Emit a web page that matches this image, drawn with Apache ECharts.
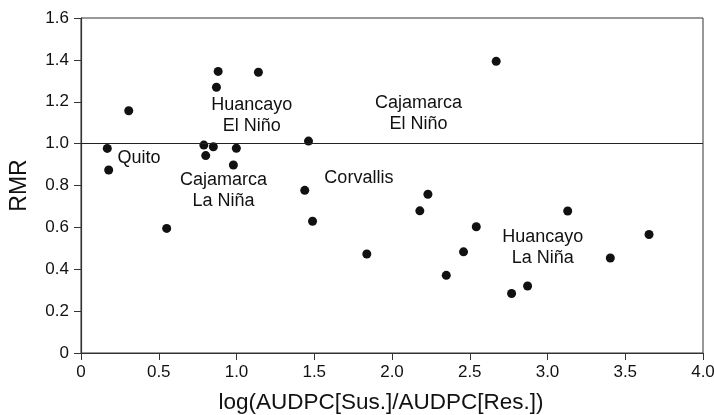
<!DOCTYPE html>
<html>
<head>
<meta charset="utf-8">
<script src="https://cdn.jsdelivr.net/npm/echarts@6/dist/echarts.min.js"></script>
<style>html,body{margin:0;padding:0;background:#fff}#c{width:714px;height:415px}</style>
</head>
<body>
<div id="c"></div>
<script>
// log(AUDPC ratio) values and RMR values
const xValues = [0.169, 0.178, 0.307, 0.551, 0.790, 0.802, 0.851, 0.871, 0.882, 0.980, 0.999, 1.141, 1.439, 1.463, 1.489, 1.838, 2.179, 2.231, 2.349, 2.460, 2.542, 2.670, 2.769, 2.872, 3.130, 3.404, 3.653];
const yValues = [0.977, 0.874, 1.157, 0.595, 0.993, 0.943, 0.985, 1.269, 1.345, 0.898, 0.978, 1.341, 0.777, 1.012, 0.629, 0.473, 0.679, 0.758, 0.371, 0.483, 0.603, 1.393, 0.284, 0.320, 0.678, 0.454, 0.566];
const xTicks = ['0', '0.5', '1.0', '1.5', '2.0', '2.5', '3.0', '3.5', '4.0'];
const yTicks = ['0', '0.2', '0.4', '0.6', '0.8', '1.0', '1.2', '1.4', '1.6'];
const referenceLine = 1.0;
const groupNames = ['Quito', 'Huancayo\nEl Niño', 'Cajamarca\nEl Niño', 'Cajamarca\nLa Niña', 'Corvallis', 'Huancayo\nLa Niña'];
const groupX = [0.373, 1.098, 2.171, 0.916, 1.787, 2.969];
const groupY = [0.932, 1.136, 1.143, 0.774, 0.837, 0.505];

const points = xValues.map((x, i) => [x, yValues[i]]);
const labels = groupNames.map((n, i) => ({ name: n, value: [groupX[i], groupY[i]] }));
const font = 'Liberation Sans, Arial, Helvetica, sans-serif';
const ink = '#111';

const chart = echarts.init(document.getElementById('c'), null, { renderer: 'canvas' });
chart.setOption({
  animation: false,
  backgroundColor: '#fff',
  grid: { left: 81, right: 11, top: 18, bottom: 62, outerBoundsMode: 'none', containLabel: false, show: true, borderColor: '#333', borderWidth: 1, backgroundColor: 'transparent' },
  xAxis: {
    type: 'value', min: 0, max: 4, interval: 0.5,
    name: 'log(AUDPC[Sus.]/AUDPC[Res.])', nameLocation: 'middle', nameGap: 38,
    nameTextStyle: { fontFamily: font, fontSize: 22.5, color: ink, padding: [0, 22, 0, 0] },
    axisLine: { show: true, lineStyle: { color: '#333', width: 1.2 } },
    axisTick: { show: true, length: 7, inside: false, lineStyle: { color: '#333' } },
    axisLabel: { fontFamily: font, fontSize: 17, color: ink, margin: 11, formatter: (v) => xTicks[Math.round(v / 0.5)] },
    splitLine: { show: false }
  },
  yAxis: {
    type: 'value', min: 0, max: 1.6, interval: 0.2,
    name: 'RMR', nameLocation: 'middle', nameGap: 50, nameRotate: 90,
    nameTextStyle: { fontFamily: font, fontSize: 23, color: ink },
    axisLine: { show: true, lineStyle: { color: '#333', width: 1.2 } },
    axisTick: { show: true, length: 7, inside: false, lineStyle: { color: '#333' } },
    axisLabel: { fontFamily: font, fontSize: 17, color: ink, margin: 12, formatter: (v) => yTicks[Math.round(v / 0.2)] },
    splitLine: { show: false }
  },
  series: [
    {
      type: 'scatter', data: points, symbol: 'circle', symbolSize: 9,
      itemStyle: { color: '#111', opacity: 1 }, silent: true,
      markLine: {
        silent: true, symbol: ['none', 'none'], label: { show: false },
        lineStyle: { color: '#222', width: 1.2, type: 'solid', opacity: 1 },
        data: [{ yAxis: referenceLine }]
      }
    },
    {
      type: 'scatter', data: labels, symbolSize: 0, silent: true,
      itemStyle: { opacity: 1 },
      label: {
        show: true, position: 'inside', formatter: (p) => p.name, opacity: 1,
        fontFamily: font, fontSize: 18, lineHeight: 21, color: ink, align: 'center', verticalAlign: 'middle'
      }
    }
  ]
});
</script>
</body>
</html>
